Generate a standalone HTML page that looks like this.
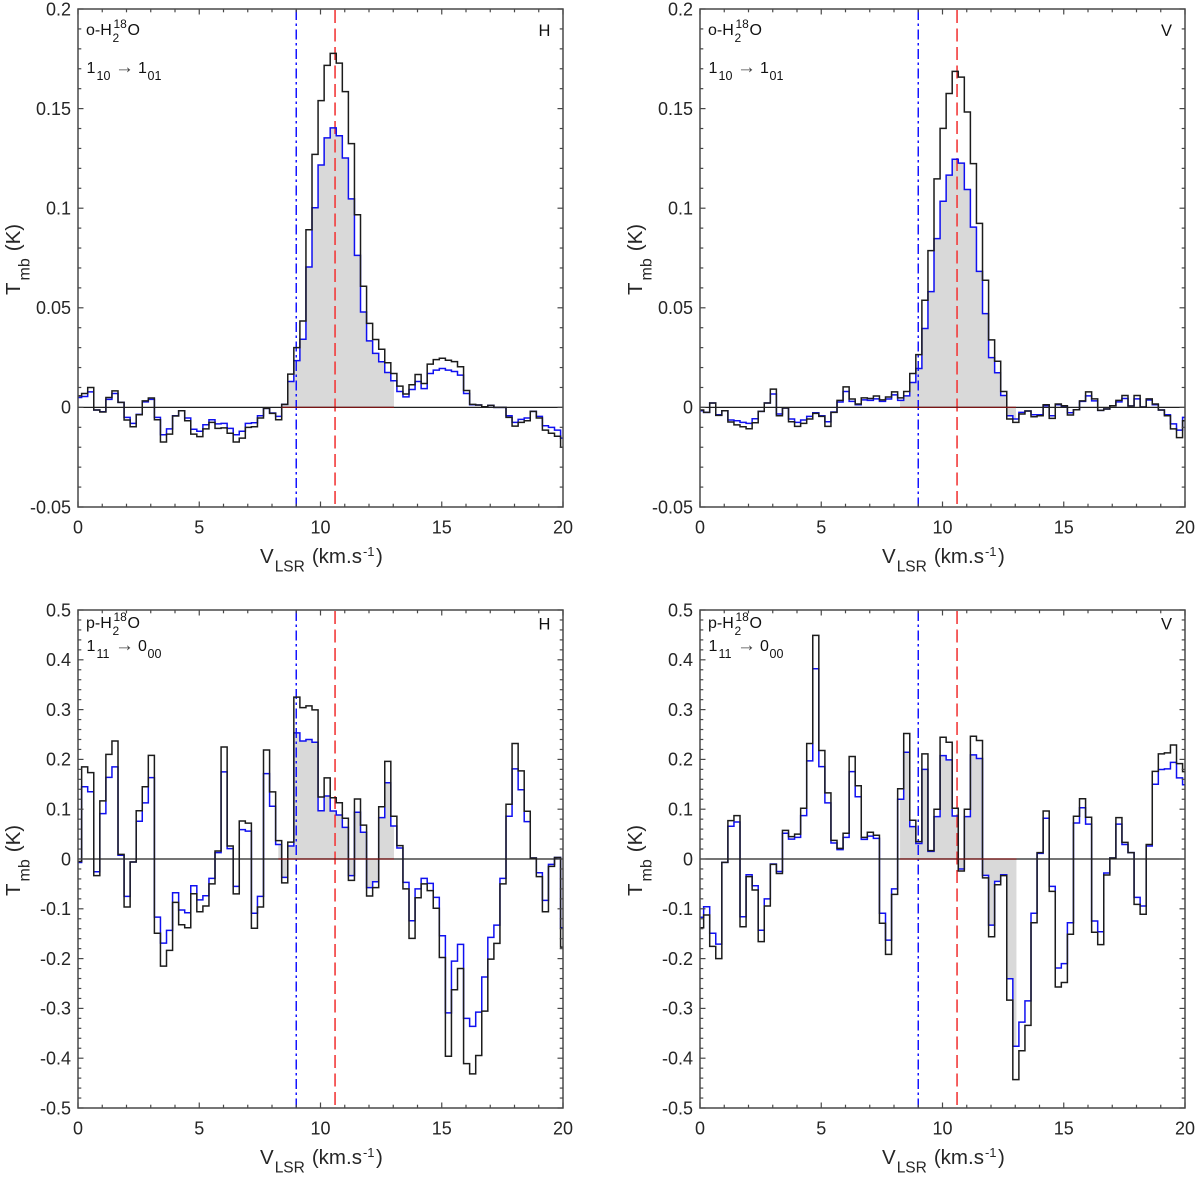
<!DOCTYPE html>
<html lang="en">
<head>
<meta charset="utf-8">
<title>H2 18O spectra</title>
<style>
html,body{margin:0;padding:0;background:#fff;}
svg{display:block;font-family:"Liberation Sans",Arial,sans-serif;}
</style>
</head>
<body>
<svg id="figure" xmlns="http://www.w3.org/2000/svg" width="1200" height="1177" viewBox="0 0 1200 1177"></svg>
<script>
// Channel i covers velocity binStart + i*binWidth .. +binWidth (clipped to the x range)
const binStart = -0.1;
const binWidth = 0.25;
const xTicksMajor = [0, 5, 10, 15, 20];
const blueLineVelocity = 9;
const redLineVelocity = 10.6;

const panel1Black = [.0058,.007,.010,-.0013,-.0023,.005,.0083,.0025,-.0063,-.0097,-.0037,.0033,.0047,-.0062,-.0174,-.0134,-.0043,-.0017,-.0067,-.0134,-.0147,-.0108,-.0075,-.0105,-.0103,-.013,-.0174,-.0154,-.01,-.0097,-.0053,-.0005,-.003,-.0062,.0015,.0167,.030,.0434,.0892,.127,.154,.1717,.1777,.1728,.1585,.1324,.0967,.0608,.0422,.0341,.0292,.0224,.017,.0107,.0067,.0114,.0165,.012,.0217,.024,.0247,.0237,.023,.0204,.0085,.0015,.0012,.0003,.001,0,0,-.005,-.0094,-.0075,-.0067,-.002,-.0053,-.0114,-.013,-.0145,-.02];
const panel1Blue = [.005,.0055,.0078,-.0013,-.0022,.004,.007,.0025,-.005,-.008,-.0035,.0028,.004,-.005,-.0137,-.0108,-.0042,-.0017,-.0053,-.011,-.012,-.0087,-.0062,-.0083,-.008,-.0105,-.0137,-.012,-.008,-.0077,-.0042,-.0005,-.0028,-.0045,.0015,.013,.0235,.0342,.0705,.1002,.1217,.1353,.1403,.1364,.1252,.1047,.0763,.0479,.0334,.0271,.0229,.0175,.0134,.008,.0053,.009,.013,.0094,.017,.0187,.0195,.0187,.018,.0162,.007,.0013,.0012,.0003,.001,0,0,-.0042,-.0075,-.006,-.0053,-.002,-.0045,-.0092,-.01,-.0114,-.0154];
const panel1Fill = [8.4, 13.03];

const panel2Black = [-.0013,-.0025,.0022,-.004,-.0017,-.0073,-.0088,-.0097,-.0107,-.0077,-.002,.0022,.0092,-.0042,-.0003,-.0072,-.0095,-.008,-.0058,-.003,-.0045,-.0095,-.0025,.0035,.0103,.0042,.0017,.0048,.0045,.0057,.0038,.0052,.0078,.0048,.008,.017,.0265,.0538,.0787,.1147,.1401,.1576,.1687,.1658,.1483,.1224,.0924,.0638,.0339,.0232,.008,-.0058,-.0075,-.0033,-.0018,-.0047,-.0042,.0013,-.0055,.0017,.0008,-.0038,-.0012,.0033,.0078,.0043,-.0015,-.0008,.0008,.0035,.006,.0007,.006,.0002,.0043,.0017,-.0013,-.0042,-.0108,-.0152,-.0067];
const panel2Blue = [-.0017,-.0025,.0022,-.0037,-.0017,-.0063,-.0067,-.0075,-.008,-.0057,-.002,.0022,.0067,-.0033,-.0003,-.0058,-.0075,-.0063,-.0045,-.0027,-.0042,-.0072,-.0023,.0027,.008,.003,.0013,.0038,.0035,.0043,.003,.0042,.0063,.0035,.0058,.0125,.0195,.0396,.0581,.0847,.1035,.1166,.1246,.1226,.1094,.0905,.0683,.0471,.025,.0174,.006,-.0042,-.0058,-.0025,-.0018,-.0037,-.0037,.0008,-.0042,.0013,.0003,-.0027,-.0012,.003,.0058,.0033,-.0015,-.0008,.0008,.0028,.0045,.0007,.0043,.0002,.0037,.0013,-.0013,-.0037,-.0083,-.0114,-.005];
const panel2Fill = [8.25, 13.03];

const panel3Black = [-.005,.185,.1735,-.0335,.1166,.21,.237,.0094,-.0965,-.006,.097,.145,.208,-.149,-.215,-.1836,-.087,-.132,-.138,-.0697,-.106,-.0945,-.05,.016,.225,.026,-.07,.0764,.072,-.139,-.0965,.219,.1347,.037,-.048,.034,.325,.304,.3075,.2995,.1246,.163,.123,.113,.0817,-.043,.1206,.068,-.0744,-.0576,.105,.196,.0858,.0268,-.06,-.1595,-.0777,-.05,-.0636,-.099,-.1977,-.396,-.2626,-.22,-.411,-.4315,-.3946,-.3055,-.201,-.1695,-.05,.11,.232,.177,.096,.002,-.0355,-.106,-.0147,.003,-.177];
const panel3Blue = [-.007,.145,.135,-.0255,.091,.164,.185,.0074,-.075,-.006,.0757,.1126,.1635,-.1166,-.169,-.1434,-.0677,-.1025,-.108,-.0536,-.082,-.0737,-.039,.0127,.175,.0208,-.055,.059,.056,-.109,-.075,.1715,.106,.029,-.037,.026,.2533,.237,.24,.2345,.097,.1266,.0965,.0884,.0636,-.0335,.0938,.0536,-.0576,-.0456,.083,.153,.0663,.022,-.047,-.124,-.06,-.039,-.049,-.077,-.154,-.309,-.205,-.1715,-.32,-.336,-.3075,-.237,-.1575,-.1327,-.039,.0858,.181,.139,.075,.002,-.0275,-.083,-.0107,.003,-.138];
const panel3Fill = [8.26, 13.03];

const panel4Black = [-.138,-.1125,-.1755,-.2,-.0067,.077,.087,-.136,-.0355,-.0623,-.166,-.0945,-.0107,-.029,.0576,.045,.05,.102,.232,.449,.218,.1327,.0375,.0214,.0516,.2057,.147,.0435,.0536,.0476,-.129,-.1916,-.071,.141,.252,.0777,.035,.211,.0167,.0998,.2446,.2345,.1018,-.024,.0998,.2466,.238,-.038,-.156,-.0516,-.0335,-.2834,-.443,-.385,-.334,-.128,.0127,.0965,-.065,-.257,-.248,-.151,.0858,.121,.0838,-.147,-.172,-.032,.002,.083,.0335,.0127,-.091,-.111,.029,.176,.211,.213,.229,.1916,.1755];
const panel4Blue = [-.117,-.096,-.149,-.171,-.0067,.0657,.0744,-.116,-.0315,-.0536,-.143,-.08,-.01,-.025,.0516,.04,.0435,.087,.197,.382,.1856,.1126,.032,.0188,.0435,.1755,.125,.0395,.046,.0415,-.109,-.163,-.06,.12,.2144,.065,.031,.18,.0154,.085,.2077,.199,.0864,-.02,.085,.209,.2017,-.033,-.1327,-.045,-.0315,-.2405,-.376,-.3276,-.285,-.109,.0114,.0817,-.055,-.219,-.21,-.128,.0724,.103,.07,-.1246,-.146,-.028,.002,.07,.029,.0127,-.077,-.0945,.026,.15,.1796,.181,.194,.163,.149];
const panel4Fill = [8.25, 13.05];

const upperYLabels = ["0.2","0.15","0.1","0.05","0","-0.05"];
const upperYMajor = [0.2,0.15,0.1,0.05,0,-0.05];
const lowerYLabels = ["0.5","0.4","0.3","0.2","0.1","0","-0.1","-0.2","-0.3","-0.4","-0.5"];
const lowerYMajor = [0.5,0.4,0.3,0.2,0.1,0,-0.1,-0.2,-0.3,-0.4,-0.5];

const svg = document.getElementById('figure');
const NS = 'http://www.w3.org/2000/svg';
const AXIS_COLOR = '#484848';
const TEXT_COLOR = '#262626';

function make(parent, tag, attrs, text) {
  const el = document.createElementNS(NS, tag);
  for (const k in attrs) el.setAttribute(k, attrs[k]);
  if (text !== undefined) el.textContent = text;
  parent.appendChild(el);
  return el;
}

function stepPath(values, xScale, yScale, xMin, xMax) {
  let d = '';
  values.forEach(function (v, i) {
    const lo = Math.max(xMin, binStart + i * binWidth);
    const hi = Math.min(xMax, binStart + (i + 1) * binWidth);
    if (hi <= lo) return;
    d += (d ? 'L' : 'M') + xScale(lo).toFixed(2) + ' ' + yScale(v).toFixed(2);
    d += 'L' + xScale(hi).toFixed(2) + ' ' + yScale(v).toFixed(2);
  });
  return d;
}

function drawPanel(cfg) {
  const g = make(svg, 'g', {});
  
  

  const xMin = 0, xMax = 20;
  const xScale = function (v) { return cfg.left + (v - xMin) / (xMax - xMin) * (cfg.right - cfg.left); };
  const yScale = function (t) { return cfg.top + (cfg.yMax - t) / (cfg.yMax - cfg.yMin) * (cfg.bottom - cfg.top); };
  const y0 = yScale(0);

  // integration fill under the blue spectrum
  const fillD = 'M' + xScale(cfg.fill[0]).toFixed(2) + ' ' + y0.toFixed(2) +
    stepPath(cfg.blue, xScale, yScale, cfg.fill[0], cfg.fill[1]).replace(/^M/, 'L') +
    'L' + xScale(cfg.fill[1]).toFixed(2) + ' ' + y0.toFixed(2) + 'Z';
  const fillEl = make(g, 'path', { d: fillD, fill: '#d9d9d9', stroke: 'none' });
  
  

  // reference velocity lines
  const blueV = make(g, 'line', { x1: xScale(blueLineVelocity), x2: xScale(blueLineVelocity), y1: cfg.top + 1, y2: cfg.bottom, stroke: '#1414ff', 'stroke-width': 1.5, 'stroke-dasharray': '10 3.5 2.5 3.5' });
  
  
  const redV = make(g, 'line', { x1: xScale(redLineVelocity), x2: xScale(redLineVelocity), y1: cfg.top + 1, y2: cfg.bottom, stroke: '#f23a3a', 'stroke-width': 1.6, 'stroke-dasharray': '13 5.5' });
  
  

  // spectra
  const bluePath = make(g, 'path', { d: stepPath(cfg.blue, xScale, yScale, xMin, xMax), fill: 'none', stroke: '#1010f0', 'stroke-width': 1.5 });
  
  
  const blackPath = make(g, 'path', { d: stepPath(cfg.black, xScale, yScale, xMin, xMax), fill: 'none', stroke: '#1c1c1c', 'stroke-width': 1.5 });
  
  

  // zero baseline and fitted range marker
  const zero = make(g, 'line', { x1: cfg.left, x2: cfg.right, y1: y0, y2: y0, stroke: '#202020', 'stroke-width': 1.3 });
  
  
  const rangeLine = make(g, 'line', { x1: xScale(cfg.fill[0]), x2: xScale(cfg.fill[1]), y1: y0, y2: y0, stroke: '#7a1515', 'stroke-width': 1.3 });
  
  

  // axes box
  const box = make(g, 'rect', { x: cfg.left, y: cfg.top, width: cfg.right - cfg.left, height: cfg.bottom - cfg.top, fill: 'none', stroke: AXIS_COLOR, 'stroke-width': 1.5 });
  
  

  // x ticks (minor every 1, major every 5)
  for (let v = xMin; v <= xMax; v++) {
    const len = v % 5 === 0 ? 5.5 : 3.3;
    const tb = make(g, 'line', { x1: xScale(v), x2: xScale(v), y1: cfg.bottom, y2: cfg.bottom - len, stroke: AXIS_COLOR, 'stroke-width': 1.2 });
    
    
    const tt = make(g, 'line', { x1: xScale(v), x2: xScale(v), y1: cfg.top, y2: cfg.top + len, stroke: AXIS_COLOR, 'stroke-width': 1.2 });
    
    
  }
  xTicksMajor.forEach(function (v) {
    const lab = make(g, 'text', { x: xScale(v), y: cfg.bottom + 26.5, 'text-anchor': 'middle', 'font-size': 18, fill: TEXT_COLOR }, String(v));
    
    
  });

  // y ticks
  const minorCount = Math.round((cfg.yMax - cfg.yMin) / cfg.yMinorStep);
  for (let i = 0; i <= minorCount; i++) {
    const t = cfg.yMax - i * cfg.yMinorStep;
    const isMajor = i % cfg.yMinorPerMajor === 0;
    const len = isMajor ? 5.5 : 3.3;
    const tl = make(g, 'line', { x1: cfg.left, x2: cfg.left + len, y1: yScale(t), y2: yScale(t), stroke: AXIS_COLOR, 'stroke-width': 1.2 });
    
    
    const tr = make(g, 'line', { x1: cfg.right, x2: cfg.right - len, y1: yScale(t), y2: yScale(t), stroke: AXIS_COLOR, 'stroke-width': 1.2 });
    
    
  }
  cfg.yMajor.forEach(function (t, i) {
    const lab = make(g, 'text', { x: cfg.left - 7, y: yScale(t) + 6.3, 'text-anchor': 'end', 'font-size': 18, fill: TEXT_COLOR }, cfg.yLabels[i]);
    
    
  });

  // y-axis title
  const midY = (cfg.top + cfg.bottom) / 2;
  const ytx = cfg.left - 58;
  const yTitle = make(g, 'text', { transform: 'rotate(-90 ' + ytx + ' ' + midY + ')', x: ytx - 37, y: midY, 'font-size': 20.5, fill: TEXT_COLOR });
  
  
  make(yTitle, 'tspan', {}, 'T');
  make(yTitle, 'tspan', { dy: 9.5, dx: 2, 'font-size': 16 }, 'mb');
  make(yTitle, 'tspan', { dy: -9.5, dx: 7 }, '(K)');

  // x-axis title
  const xTitle = make(g, 'text', { x: cfg.left + 182, y: cfg.bottom + 56, 'font-size': 20.5, fill: TEXT_COLOR });
  
  
  make(xTitle, 'tspan', {}, 'V');
  make(xTitle, 'tspan', { dy: 8.5, 'font-size': 15.5, dx: 1 }, 'LSR');
  make(xTitle, 'tspan', { dy: -8.5, dx: 7 }, '(km.s');
  make(xTitle, 'tspan', { dy: -7, dx: 1, 'font-size': 13 }, '-1');
  make(xTitle, 'tspan', { dy: 7, dx: 1.5 }, ')');

  // species label
  const tx = cfg.left + 8, b1 = cfg.top + cfg.speciesBase, b2 = cfg.top + cfg.transBase;
  const spec = make(g, 'text', { x: tx, y: b1, 'font-size': 16, fill: '#111' });
  
  
  make(spec, 'tspan', {}, cfg.species + '-H');
  make(spec, 'tspan', { x: tx + 26.5, y: b1 + 7, 'font-size': 12 }, '2');
  make(spec, 'tspan', { x: tx + 27.5, y: b1 - 7, 'font-size': 12 }, '18');
  make(spec, 'tspan', { x: tx + 41.5, y: b1 }, 'O');

  // transition label
  const trans = make(g, 'text', { x: tx, y: b2, 'font-size': 16, fill: '#111' });
  
  
  make(trans, 'tspan', { x: tx + 0.5 }, cfg.upper[0]);
  make(trans, 'tspan', { x: tx + 10.5, y: b2 + 7, 'font-size': 12.5 }, cfg.upper[1]);
  make(trans, 'tspan', { x: tx + 29, y: b2, 'font-size': 19, fill: '#444' }, '\u2192');
  make(trans, 'tspan', { x: tx + 52, y: b2 }, cfg.lower[0]);
  make(trans, 'tspan', { x: tx + 61.5, y: b2 + 7, 'font-size': 12.5 }, cfg.lower[1]);

  // polarisation label
  const pol = make(g, 'text', { x: cfg.right - 18.5, y: cfg.top + cfg.polBase, 'text-anchor': 'middle', 'font-size': 16.5, fill: '#111' }, cfg.pol);
  
  
}

drawPanel({ name: 'panel-ortho-h', left: 78, right: 563, top: 9, bottom: 507, yMin: -0.05, yMax: 0.2, yMinorStep: 0.01, yMinorPerMajor: 5, yMajor: upperYMajor, yLabels: upperYLabels, black: panel1Black, blue: panel1Blue, fill: panel1Fill, species: 'o', upper: ['1', '10'], lower: ['1', '01'], pol: 'H', speciesBase: 26, transBase: 64, polBase: 27 });
drawPanel({ name: 'panel-ortho-v', left: 700, right: 1185, top: 9, bottom: 507, yMin: -0.05, yMax: 0.2, yMinorStep: 0.01, yMinorPerMajor: 5, yMajor: upperYMajor, yLabels: upperYLabels, black: panel2Black, blue: panel2Blue, fill: panel2Fill, species: 'o', upper: ['1', '10'], lower: ['1', '01'], pol: 'V', speciesBase: 26, transBase: 64, polBase: 27 });
drawPanel({ name: 'panel-para-h', left: 78, right: 563, top: 610, bottom: 1108, yMin: -0.5, yMax: 0.5, yMinorStep: 0.02, yMinorPerMajor: 5, yMajor: lowerYMajor, yLabels: lowerYLabels, black: panel3Black, blue: panel3Blue, fill: panel3Fill, species: 'p', upper: ['1', '11'], lower: ['0', '00'], pol: 'H', speciesBase: 18, transBase: 41, polBase: 19.5 });
drawPanel({ name: 'panel-para-v', left: 700, right: 1185, top: 610, bottom: 1108, yMin: -0.5, yMax: 0.5, yMinorStep: 0.02, yMinorPerMajor: 5, yMajor: lowerYMajor, yLabels: lowerYLabels, black: panel4Black, blue: panel4Blue, fill: panel4Fill, species: 'p', upper: ['1', '11'], lower: ['0', '00'], pol: 'V', speciesBase: 18, transBase: 41, polBase: 19.5 });
</script>
</body>
</html>
